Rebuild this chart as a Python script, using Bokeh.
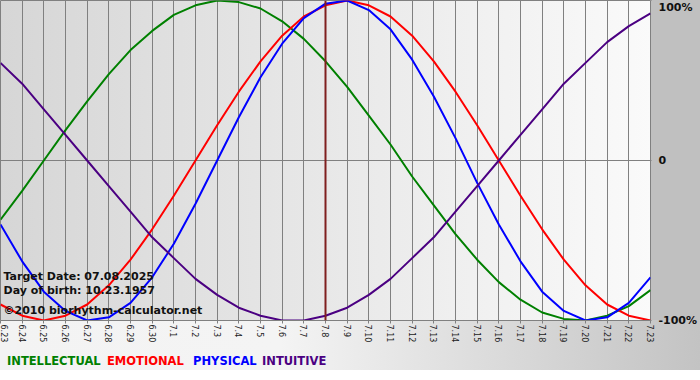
import math
from bokeh.plotting import figure
from bokeh.models import FixedTicker, Span, Label, Range1d, Div
from bokeh.layouts import column
from bokeh.embed import file_html
from bokeh.resources import INLINE

# ---- data ----
dates = ["6.23", "6.24", "6.25", "6.26", "6.27", "6.28", "6.29", "6.30",
         "7.1", "7.2", "7.3", "7.4", "7.5", "7.6", "7.7", "7.8", "7.9", "7.10",
         "7.11", "7.12", "7.13", "7.14", "7.15", "7.16", "7.17", "7.18", "7.19",
         "7.20", "7.21", "7.22", "7.23"]
target_date = "7.8"

intellectual = [-0.37, -0.19, 0.00, 0.19, 0.37, 0.54, 0.69, 0.81, 0.91, 0.97,
                1.00, 0.99, 0.95, 0.87, 0.76, 0.62, 0.46, 0.28, 0.10, -0.10,
                -0.28, -0.46, -0.62, -0.76, -0.87, -0.95, -0.99, -1.00, -0.97,
                -0.91, -0.81]
emotional = [-0.90, -0.97, -1.00, -0.97, -0.90, -0.78, -0.62, -0.43, -0.22,
             0.00, 0.22, 0.43, 0.62, 0.78, 0.90, 0.97, 1.00, 0.97, 0.90, 0.78,
             0.62, 0.43, 0.22, 0.00, -0.22, -0.43, -0.62, -0.78, -0.90, -0.97,
             -1.00]
physical = [-0.40, -0.63, -0.82, -0.94, -1.00, -0.98, -0.89, -0.73, -0.52,
            -0.27, 0.00, 0.27, 0.52, 0.73, 0.89, 0.98, 1.00, 0.94, 0.82, 0.63,
            0.40, 0.14, -0.14, -0.40, -0.63, -0.82, -0.94, -1.00, -0.98, -0.89,
            -0.73]
intuitive = [0.61, 0.48, 0.32, 0.16, 0.00, -0.16, -0.32, -0.48, -0.61, -0.74,
             -0.84, -0.92, -0.97, -1.00, -1.00, -0.97, -0.92, -0.84, -0.74,
             -0.61, -0.48, -0.32, -0.16, 0.00, 0.16, 0.32, 0.48, 0.61, 0.74,
             0.84, 0.92]

y_ticks = [-1, 0, 1]
y_tick_labels = ["-100%", "0", "100%"]

series_names = ["INTELLECTUAL", "EMOTIONAL", "PHYSICAL", "INTUITIVE"]
series_colors = ["#008000", "#ff0000", "#0000ff", "#4b0082"]
info_lines = ["Target Date: 07.08.2025", "Day of birth: 10.23.1957",
              "\u00a92010 biorhythm-calculator.net"]

day = list(range(len(dates)))

W = 700
FW, FH = 651, 320
H_FIG = 346
H_LEG = 24
BOTTOM_BG = "linear-gradient(to right, #f3f3f3 0%, #f4f4f4 40%, #c3c3c3 100%)"

p = figure(width=W, height=H_FIG,
           x_range=Range1d(day[0], day[-1]), y_range=Range1d(-1, 1),
           output_backend="svg", toolbar_location=None,
           y_axis_location="right",
           min_border_left=0, min_border_top=0,
           min_border_right=W - FW, min_border_bottom=H_FIG - FH)

p.background_fill_color = None
p.border_fill_color = None
p.outline_line_color = "#808080"
p.styles = {
    "background": (
        f"linear-gradient(to right, #d6d6d6, #fafafa) left top / {FW}px {FH}px no-repeat, "
        f"linear-gradient(#c0c0c0, #c0c0c0) right top / {W - FW}px {FH}px no-repeat, "
        + BOTTOM_BG
    )
}

# grid
p.xgrid.ticker = FixedTicker(ticks=day)
p.ygrid.ticker = FixedTicker(ticks=[0])
for g in (p.xgrid, p.ygrid):
    g.grid_line_color = "#808080"
    g.grid_line_width = 1
    g.grid_line_alpha = 1.0

# x axis
xa = p.xaxis[0]
xa.ticker = FixedTicker(ticks=day)
xa.major_label_overrides = {d: lab for d, lab in zip(day, dates)}
xa.major_label_orientation = -math.pi / 2
xa.major_label_text_font = "DejaVu Sans"
xa.major_label_text_font_size = "8px"
xa.major_label_text_color = "#222222"
xa.major_label_standoff = 1
xa.axis_line_color = "#808080"
xa.major_tick_line_color = "#808080"
xa.major_tick_in = 0
xa.major_tick_out = 3
xa.minor_tick_line_color = None

# y axis (right)
ya = p.yaxis[0]
ya.ticker = FixedTicker(ticks=y_ticks)
ya.major_label_overrides = {t: lab for t, lab in zip(y_ticks, y_tick_labels)}
ya.major_label_text_font = "DejaVu Sans"
ya.major_label_text_font_size = "11px"
ya.major_label_text_font_style = "bold"
ya.major_label_text_color = "#111111"
ya.major_label_standoff = 7
ya.axis_line_color = None
ya.major_tick_line_color = "#808080"
ya.major_tick_in = 0
ya.major_tick_out = 1
ya.minor_tick_line_color = None

# curves
for vals, col in zip([intellectual, emotional, physical, intuitive], series_colors):
    p.line(day, vals, line_color=col, line_width=2, line_join="round")

# target date line
p.add_layout(Span(location=dates.index(target_date), dimension="height",
                  line_color="#7f1f1f", line_width=2))

# info text inside plot
for txt, yy in zip(info_lines, [44, 30, 10]):
    p.add_layout(Label(x=3, y=yy, x_units="screen", y_units="screen", text=txt,
                       text_font="DejaVu Sans", text_font_size="11px",
                       text_font_style="bold", text_color="#111111",
                       text_baseline="alphabetic", text_align="left"))

# colored legend below the chart
leg_x = [7, 107, 193, 262]
spans = "".join(
    f'<span style="position:absolute;left:{x}px;top:10px;color:{c};">{n}</span>'
    for n, c, x in zip(series_names, series_colors, leg_x)
)
legend_div = Div(
    text=(f'<div style="position:relative;width:{W}px;height:{H_LEG}px;'
          f'background:{BOTTOM_BG};font-family:\'DejaVu Sans\';font-size:11.5px;'
          f'font-weight:bold;line-height:1;white-space:nowrap;">{spans}</div>'),
    width=W, height=H_LEG, margin=(0, 0, 0, 0))

layout = column(p, legend_div, spacing=0)

open("out.html", "w").write(file_html(layout, INLINE))
